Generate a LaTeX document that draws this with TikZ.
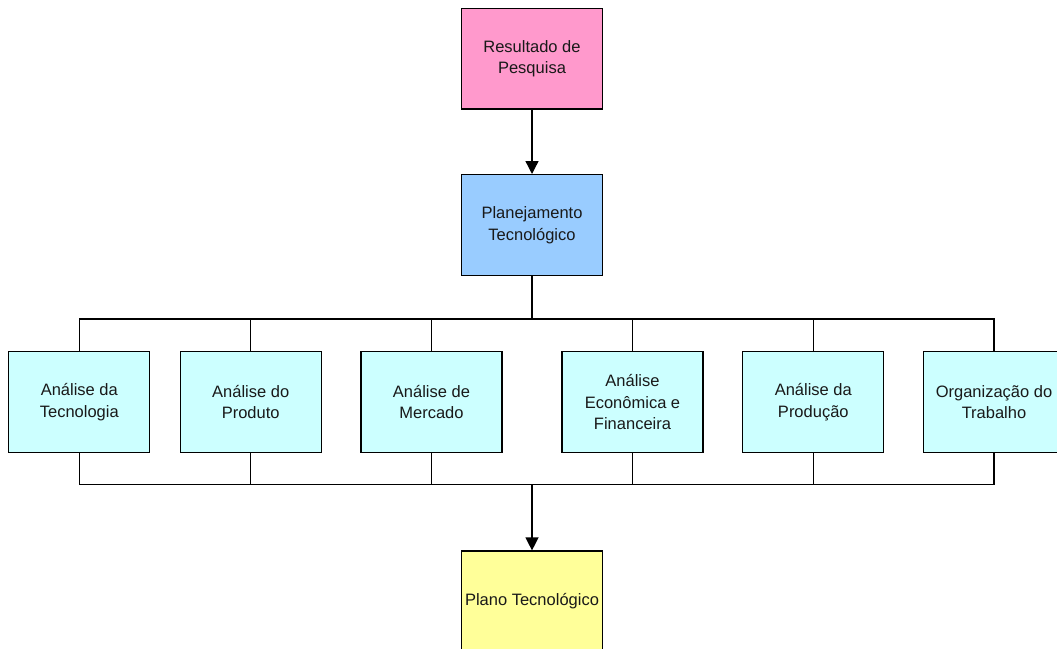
\documentclass[tikz,border=0pt]{standalone}
\usepackage{fontspec}
\setmainfont{Liberation Sans}
\usetikzlibrary{arrows.meta}
\definecolor{boxpink}{HTML}{FF99CC}
\definecolor{boxblue}{HTML}{99CCFF}
\definecolor{boxcyan}{HTML}{CCFFFF}
\definecolor{boxyellow}{HTML}{FFFF99}
\tikzset{
  stagebox/.style={draw=black, line width=1.3pt, minimum width=141pt, minimum height=100.7pt,
    inner sep=0pt, align=center, font=\fontsize{16.5}{21.5}\selectfont, text=black!90},
  link/.style={line width=1.3pt, draw=black},
  flow/.style={link, -{Triangle[length=13pt,width=13pt]}}
}
\begin{document}
\begin{tikzpicture}[x=1pt,y=-1pt]
  \useasboundingbox (0,0) rectangle (1057,648);
  \clip (0,0) rectangle (1057,648);
  % main column
  \node[stagebox, fill=boxpink] (res) at (532,58.6) {Resultado de\\Pesquisa};
  \node[stagebox, fill=boxblue] (plan) at (532,225) {Planejamento\\Tecnológico};
  % analysis row
  \node[stagebox, fill=boxcyan] (a1) at (79.3,402) {Análise da\\Tecnologia};
  \node[stagebox, fill=boxcyan] (a2) at (250.7,402) {Análise do\\Produto};
  \node[stagebox, fill=boxcyan] (a3) at (431.5,402) {Análise de\\Mercado};
  \node[stagebox, fill=boxcyan] (a4) at (632.5,402) {Análise\\Econômica e\\Financeira};
  \node[stagebox, fill=boxcyan] (a5) at (813.3,402) {Análise da\\Produção};
  \node[stagebox, fill=boxcyan] (a6) at (994,402) {Organização do\\Trabalho};
  % result
  \node[stagebox, fill=boxyellow] (out) at (532,601.4) {Plano Tecnológico};
  % bus levels
  \coordinate (tb) at (532,319);
  \coordinate (bb) at (532,484.5);
  % connectors
  \draw[flow] (res) -- (plan);
  \draw[link] (plan.south) -- (tb);
  \draw[link] (a1.north) -- (a1.north |- tb) -- (a6.north |- tb) -- (a6.north);
  \foreach \n in {a2,a3,a4,a5} \draw[link] (\n.north) -- (\n.north |- tb);
  \draw[link] (a1.south) -- (a1.south |- bb) -- (a6.south |- bb) -- (a6.south);
  \foreach \n in {a2,a3,a4,a5} \draw[link] (\n.south) -- (\n.south |- bb);
  \draw[flow] (bb) -- (out.north);
\end{tikzpicture}
\end{document}
